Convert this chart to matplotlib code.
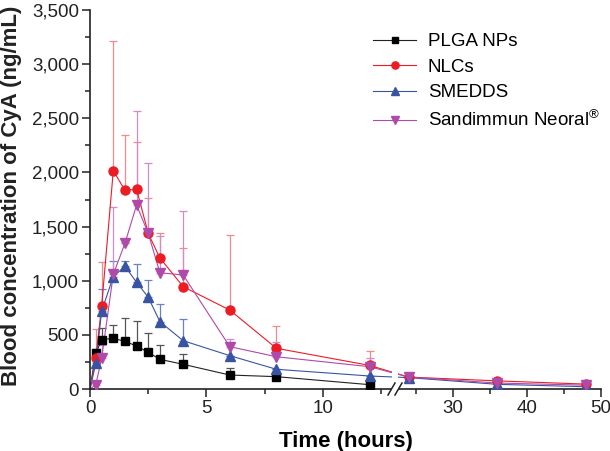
import numpy as np
import matplotlib
matplotlib.use("Agg")
import matplotlib.pyplot as plt
from matplotlib.patches import Rectangle
from matplotlib.ticker import FixedLocator, FuncFormatter

plt.rcParams['font.family'] = ['Liberation Sans', 'DejaVu Sans']
plt.rcParams['mathtext.fontset'] = 'custom'
plt.rcParams['mathtext.rm'] = 'Liberation Sans'

# sampling times (hours)
times = [0, 0.25, 0.5, 1, 1.5, 2, 2.5, 3, 4, 6, 8, 12, 24, 36, 48]
times_plga = times[:12]

# mean blood concentration (ng/mL) and upper SD
plga = [0, 330, 455, 468, 440, 397, 339, 274, 228, 129, 114, 40]
plga_err = [0, 40, 110, 123, 218, 231, 175, 135, 92, 68, 20, 0]

nlc = [0, 290, 765, 2016, 1835, 1844, 1437, 1210, 945, 729, 376, 218, 110, 75, 45]
nlc_err = [0, 264, 405, 1200, 510, 440, 330, 230, 354, 690, 209, 136, 20, 20, 15]

smedds = [0, 237, 720, 1037, 1134, 985, 847, 622, 446, 308, 182, 120, 105, 43, 21]
smedds_err = [0, 60, 200, 145, 50, 169, 159, 163, 203, 0, 0, 0, 30, 10, 5]

sand = [0, 40, 286, 1059, 1345, 1699, 1437, 1074, 1053, 391, 298, 206, 110, 55, 35]
sand_err = [0, 30, 120, 624, 0, 868, 646, 340, 590, 71, 139, 80, 20, 10, 5]

labels = ['PLGA NPs', 'NLCs', 'SMEDDS', r'Sandimmun Neoral$^{\circledR}$']

# broken x axis: 0-13 h linear, 22.5-50 h compressed
R = 7.4 / 23.3


def fwd(x):
    x = np.asarray(x, dtype=float)
    return np.where(x <= 13, x,
                    np.where(x >= 22.5, 13.2 + (x - 22.5) * R,
                             13 + (x - 13) * 0.2 / 9.5))


def inv(y):
    y = np.asarray(y, dtype=float)
    return np.where(y <= 13, y,
                    np.where(y >= 13.2, 22.5 + (y - 13.2) / R,
                             13 + (y - 13) * 9.5 / 0.2))


fig = plt.figure(figsize=(6.1, 4.51), dpi=100)
ax = fig.add_axes([90 / 610, 62 / 451, 511 / 610, 379 / 451])
ax.set_xscale('function', functions=(fwd, inv))

series = [
    (times_plga, plga, plga_err, 's', '#000000', '#222222', '#555555', 5.5),
    (times, nlc, nlc_err, 'o', '#ec1c24', '#ec1c24', '#f08a8e', 6.5),
    (times, smedds, smedds_err, '^', '#3a54a4', '#3a54a4', '#6d80c0', 6.5),
    (times, sand, sand_err, 'v', '#b04aa8', '#b04aa8', '#cf8ccb', 6.5),
]
for (t, y, e, mk, mc, lc, ec, ms), lab in zip(series, labels):
    ax.errorbar(t, y, yerr=[np.zeros(len(e)), e], fmt='none', ecolor=ec,
                elinewidth=0.9, capsize=3.2, capthick=0.9, zorder=1)
    ax.plot(t, y, color=lc, lw=0.8, zorder=2)
    ax.plot(t[1:], y[1:], ls='none', marker=mk, color=mc, ms=ms, zorder=3)
    ax.plot([], [], color=lc, lw=0.8, marker=mk, mfc=mc, mec=mc, ms=ms * 0.8, label=lab)

ax.set_xlim(0, 50)
ax.set_ylim(0, 3500)
ax.xaxis.set_major_locator(FixedLocator([0, 5, 10, 30, 40, 50]))
ax.xaxis.set_minor_locator(FixedLocator([2.5, 7.5, 12.5, 25, 35, 45]))
ax.yaxis.set_major_locator(FixedLocator(np.arange(0, 3501, 500)))
ax.yaxis.set_minor_locator(FixedLocator(np.arange(250, 3500, 500)))
ax.xaxis.set_major_formatter(FuncFormatter(lambda v, p: f"{v:g}"))
ax.yaxis.set_major_formatter(FuncFormatter(lambda v, p: f"{int(v):,}"))

for s in ['top', 'right']:
    ax.spines[s].set_visible(False)
for s in ['left', 'bottom']:
    ax.spines[s].set_linewidth(1.2)
    ax.spines[s].set_color('#222222')
ax.tick_params(which='major', direction='out', length=6, width=1.1,
               labelsize=13.5, pad=2, color='#222222', labelcolor='#222222')
ax.tick_params(which='minor', direction='out', length=3.5, width=1.1, color='#222222')

# break gap and slashes
fx = lambda px: (px - 90) / 511
fy = lambda py: (389 - py) / 379
ax.add_patch(Rectangle((fx(392), fy(400)), fx(398) - fx(392), fy(0) - fy(400),
                       transform=ax.transAxes, facecolor='white', edgecolor='none',
                       clip_on=False, zorder=5))
for cx in (391.5, 398.5):
    ax.plot([fx(cx - 3.5), fx(cx + 3.5)], [fy(395), fy(383)], transform=ax.transAxes,
            color='#222222', lw=1.1, clip_on=False, zorder=6)

ax.set_xlabel('Time (hours)', fontsize=16, fontweight='bold', labelpad=10)
fig.text(12 / 610, 1 - 196 / 451, 'Blood concentration of CyA (ng/mL)', rotation=90,
         fontsize=16, fontweight='bold', ha='center', va='center', color='#222222')

ax.legend(loc='upper left', bbox_to_anchor=(fx(373), fy(33)), frameon=False,
          fontsize=13.5, handlelength=2.3, handletextpad=0.62, labelspacing=0.45,
          borderpad=0, borderaxespad=0)

fig.savefig('out.png', dpi=100)
